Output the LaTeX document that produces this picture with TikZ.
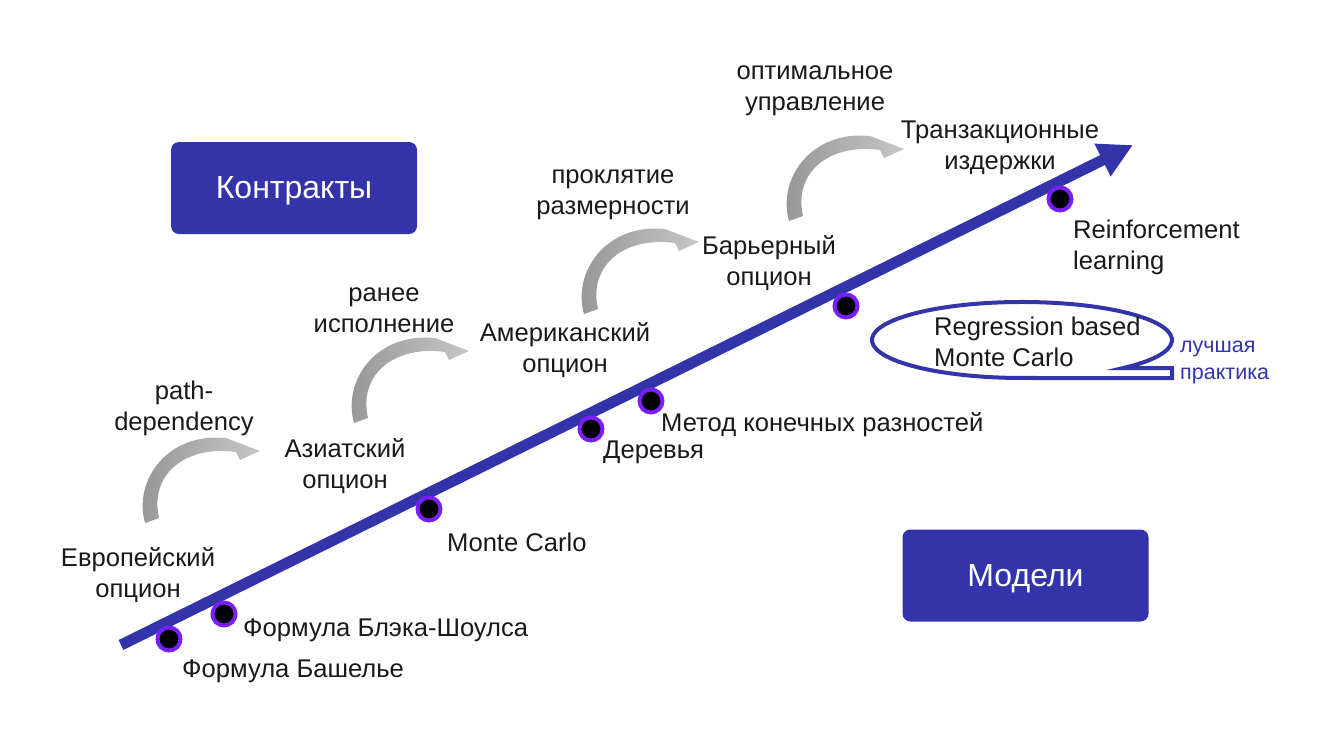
\documentclass[tikz,border=0pt]{standalone}
\usepackage{fontspec}
\setmainfont{Liberation Sans}
\usetikzlibrary{arrows.meta}
\definecolor{mainblue}{RGB}{51,51,170}
\definecolor{ringc}{RGB}{120,30,255}
\definecolor{txt}{RGB}{25,25,25}
\definecolor{arrdark}{RGB}{148,148,148}
\definecolor{arrlight}{RGB}{198,198,198}
\newcommand\grayarrow[1]{%
  \begin{scope}[shift={#1}]
    \shade[left color=arrdark, right color=arrlight]
      (789,221) .. controls (777,178) and (812,130) .. (870,136)
      -- (904,149) -- (884,158) -- (880,150)
      .. controls (830,143) and (793,172) .. (803,216) -- cycle;
  \end{scope}}
\begin{document}
\begin{tikzpicture}[x=1pt,y=-1pt,
  lbl/.style={inner sep=0pt, text=txt, font=\fontsize{25.6}{31}\selectfont, align=center},
  lbll/.style={lbl, align=left, anchor=west},
  box/.style={fill=mainblue, rounded corners=8pt, minimum width=246pt, minimum height=92pt, inner sep=0pt},
  boxtext/.style={inner sep=0pt, text=white, font=\fontsize{32}{38}\selectfont},
  dotn/.style={circle, fill=black, draw=ringc, line width=4pt, minimum size=23pt, inner sep=0pt},
  note/.style={inner sep=0pt, text=mainblue, font=\fontsize{21.5}{27}\selectfont, align=left, anchor=west}
]
\useasboundingbox (0,0) rectangle (1320,742);

% boxes
\node[box] (contracts) at (294,188) {};
\node[boxtext] (contractsT) at (294,191) {Контракты};
\node[box] (models) at (1025.5,575.5) {};
\node[boxtext] (modelsT) at (1025.5,579) {Модели};

% main arrow
\coordinate (start) at (121,645);
\coordinate (tip) at (1133,145);
\draw[mainblue, line width=11pt, -{Triangle[length=34pt,width=34pt]}] (start) -- (tip);

% dots
\node[dotn] (d1) at (169,639) {};
\node[dotn] (d2) at (224,614) {};
\node[dotn] (d3) at (429,509) {};
\node[dotn] (d4) at (591,429) {};
\node[dotn] (d5) at (651,401) {};
\node[dotn] (d6) at (846,306) {};
\node[dotn] (d7) at (1060,199) {};

% gray curved arrows
\grayarrow{(-644,302)}
\grayarrow{(-435,202)}
\grayarrow{(-205,93)}
\grayarrow{(0,0)}

% contract labels
\node[lbl] (eur) at (138,575) {Европейский\\опцион};
\node[lbl] (pathdep) at (184,408) {path-\\dependency};
\node[lbl] (asian) at (345,466) {Азиатский\\опцион};
\node[lbl] (early) at (384,310) {ранее\\исполнение};
\node[lbl] (amer) at (565,350) {Американский\\опцион};
\node[lbl] (curse) at (613,195) {проклятие\\размерности};
\node[lbl] (barrier) at (769,263) {Барьерный\\опцион};
\node[lbl] (optimal) at (815,91) {оптимальное\\управление};
\node[lbl] (trans) at (1000,148) {Транзакционные\\издержки};

% model labels
\node[lbll] (rl) at (1073,247) {Reinforcement\\learning};
\node[lbll] (bash) at (182,671) {Формула Башелье};
\node[lbll] (bs) at (243,630) {Формула Блэка-Шоулса};
\node[lbll] (mc) at (447,542) {Monte Carlo};
\node[lbll] (trees) at (603,452) {Деревья};
\node[lbll] (fd) at (661,425) {Метод конечных разностей};

% callout
\draw[mainblue, line width=4pt] (1035,378) -- (1172,378) -- (1172,368) -- (1123.3,368)
  arc[start angle=47.5, end angle=-275, x radius=150, y radius=38] -- cycle;
\node[lbll] (rbmc) at (934,342) {Regression based\\Monte Carlo};
\node[note] (best) at (1180,362) {лучшая\\практика};
\end{tikzpicture}
\end{document}
